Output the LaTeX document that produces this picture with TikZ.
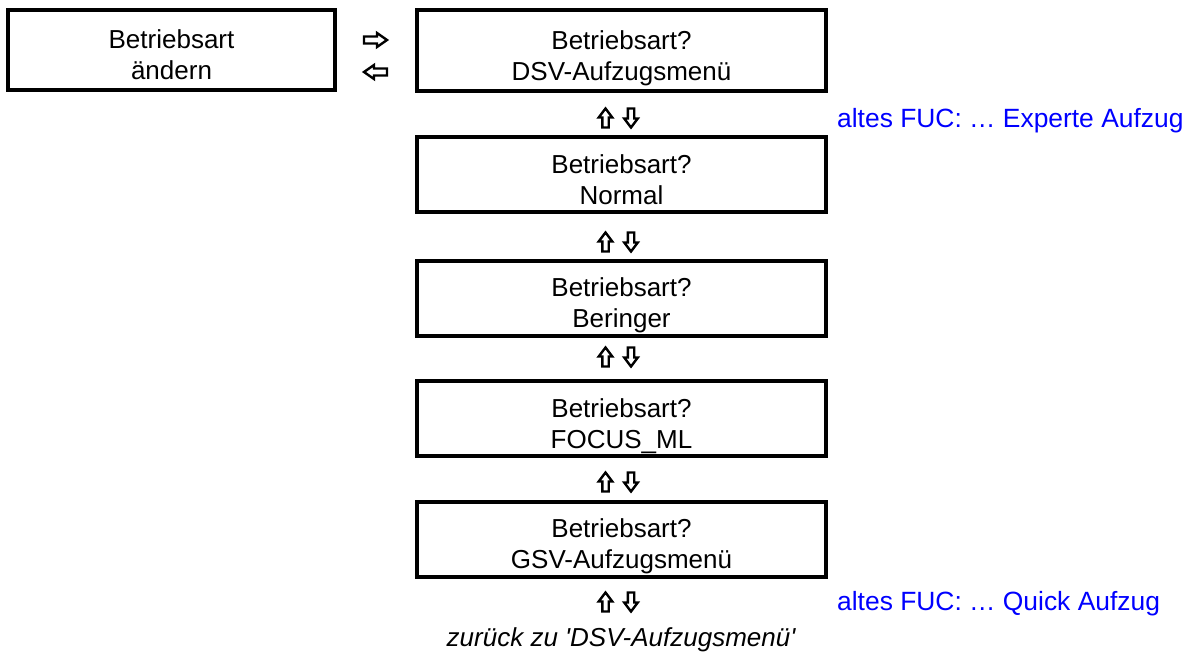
\documentclass[tikz,border=0pt]{standalone}
\usepackage{fontspec}
\setmainfont{Liberation Sans}
\definecolor{fucblue}{RGB}{0,0,255}
\newcommand\twolines[2]{\rule{0pt}{36pt}#1\\#2\rule[-8pt]{0pt}{8pt}}
\begin{document}
\begin{tikzpicture}[x=1pt,y=-1pt,
  menubox/.style={draw=black, line width=4pt, align=center, inner sep=0pt,
    font=\fontsize{26}{31}\selectfont, minimum width=409pt},
  note/.style={text=fucblue, font=\fontsize{26.4}{31}\selectfont, anchor=base west, inner sep=0pt},
  back/.style={font=\itshape\fontsize{26}{31}\selectfont, inner sep=0pt},
  hollow/.style={draw=black, line width=2.4pt, line join=miter, fill=white},
  uparrow/.pic={\path[hollow] (0,-9.5) -- (6.8,-0.5) -- (3.2,-0.5) -- (3.2,9.5) -- (-3.2,9.5) -- (-3.2,-0.5) -- (-6.8,-0.5) -- cycle;},
  downarrow/.pic={\path[hollow] (0,9.5) -- (6.8,0.5) -- (3.2,0.5) -- (3.2,-9.5) -- (-3.2,-9.5) -- (-3.2,0.5) -- (-6.8,0.5) -- cycle;},
  rightarrow/.pic={\path[hollow] (11.5,0) -- (1.5,-7) -- (1.5,-3.5) -- (-11.5,-3.5) -- (-11.5,3.5) -- (1.5,3.5) -- (1.5,7) -- cycle;},
  leftarrow/.pic={\path[hollow] (-11.5,0) -- (-1.5,-7) -- (-1.5,-3.5) -- (11.5,-3.5) -- (11.5,3.5) -- (-1.5,3.5) -- (-1.5,7) -- cycle;}]
\useasboundingbox (0,0) rectangle (1192,659);
\node[menubox, minimum width=327pt, minimum height=80pt] (ba) at (171.5,50) {\twolines{Betriebsart}{ändern}};
\node[menubox, minimum height=81pt] (b1) at (621.5,50.5) {\twolines{Betriebsart?}{DSV-Aufzugsmenü}};
\node[menubox, minimum height=75pt] (b2) at (621.5,174.5) {\twolines{Betriebsart?}{Normal}};
\node[menubox, minimum height=74pt] (b3) at (621.5,298) {\twolines{Betriebsart?}{Beringer}};
\node[menubox, minimum height=73pt] (b4) at (621.5,418.5) {\twolines{Betriebsart?}{FOCUS\_ML}};
\node[menubox, minimum height=72pt] (b5) at (621.5,539) {\twolines{Betriebsart?}{GSV-Aufzugsmenü}};
\pic (r1) at (375.5,40) {rightarrow};
\pic (l1) at (375.5,72) {leftarrow};
\foreach \n/\y in {1/118,2/242,3/357,4/482,5/602}{
  \pic (u\n) at (605.5,\y) {uparrow};
  \pic (d\n) at (631,\y) {downarrow};
}
\node[note] (n1) at (837,127) {altes FUC: … Experte Aufzug};
\node[note] (n2) at (837,610) {altes FUC: … Quick Aufzug};
\node[back] (z) at (621,640) {zurück zu \textquotesingle DSV-Aufzugsmenü\textquotesingle};
\end{tikzpicture}
\end{document}
